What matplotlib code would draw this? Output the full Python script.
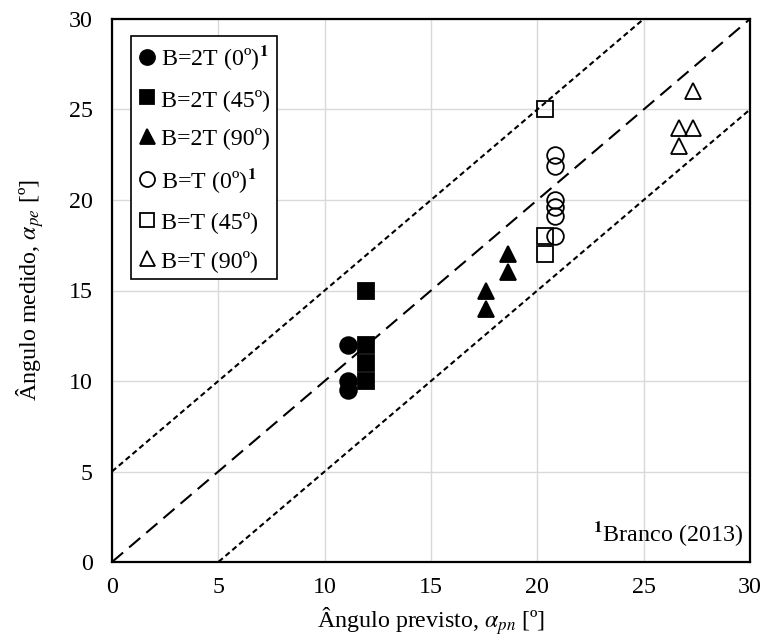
import numpy as np
import matplotlib.pyplot as plt

# --------------------------------------------------
# Data
# --------------------------------------------------
x_2T_0 = [11.1, 11.1, 11.1]
y_2T_0 = [12.0, 10.0, 9.5]

x_2T_45 = [11.95, 11.95, 11.95, 11.95]
y_2T_45 = [15.0, 12.0, 11.0, 10.0]

x_2T_90 = [17.6, 17.6, 18.6, 18.6]
y_2T_90 = [15.0, 14.0, 17.0, 16.0]

x_T_0 = [20.85, 20.85, 20.85, 20.85, 20.85, 20.85]
y_T_0 = [22.5, 21.9, 20.0, 19.6, 19.1, 18.0]

x_T_45 = [20.35, 20.35, 20.35]
y_T_45 = [25.0, 18.0, 17.0]

x_T_90 = [26.65, 26.65, 27.3, 27.3]
y_T_90 = [24.0, 23.0, 26.0, 24.0]

labels = [r'B=2T (0º)$^{\mathbf{1}}$', 'B=2T (45º)', 'B=2T (90º)',
          r'B=T (0º)$^{\mathbf{1}}$', 'B=T (45º)', 'B=T (90º)']

ref_x = [0, 30]
offsets = [0, 5, -5]

# --------------------------------------------------
# Plot settings
# --------------------------------------------------
plt.rcParams.update({
    'font.family': 'Liberation Serif',
    'mathtext.fontset': 'stix',
    'font.size': 17.3,
})

fig = plt.figure(figsize=(7.62, 6.42), dpi=100)
ax = fig.add_axes([112 / 762, 1 - 562 / 642, 638 / 762, 543 / 642])

# reference lines: 1:1 and +/- 5 degrees
ax.plot(ref_x, [v + offsets[0] for v in ref_x], color='black', lw=1.5,
        dashes=(7.0, 3.8), zorder=2)
for off in offsets[1:]:
    ax.plot(ref_x, [v + off for v in ref_x], color='black', lw=1.5,
            dashes=(2.6, 1.7), zorder=2)

series = [
    (x_2T_0, y_2T_0, 'o', 'black'),
    (x_2T_45, y_2T_45, 's', 'black'),
    (x_2T_90, y_2T_90, '^', 'black'),
    (x_T_0, y_T_0, 'o', 'none'),
    (x_T_45, y_T_45, 's', 'none'),
    (x_T_90, y_T_90, '^', 'none'),
]
for (xs, ys, mk, fc), lab in zip(series, labels):
    ax.plot(xs, ys, linestyle='none', marker=mk,
            markersize=12 if mk != 's' else 11.5,
            markerfacecolor=fc, markeredgecolor='black', markeredgewidth=1.3,
            label=lab, zorder=3)

ax.set_xlim(0, 30)
ax.set_ylim(0, 30)
ax.set_xticks(range(0, 31, 5))
ax.set_yticks(range(0, 31, 5))
ax.tick_params(length=0)
ax.tick_params(axis='x', pad=11)
ax.tick_params(axis='y', pad=14)
ax.grid(True, color='#d9d9d9', lw=1.0, zorder=0)
ax.set_axisbelow(True)
for spine in ax.spines.values():
    spine.set_linewidth(1.6)

ax.set_xlabel(r'Ângulo previsto, $\alpha_{pn}$ [º]', labelpad=5)
ax.set_ylabel(r'Ângulo medido, $\alpha_{pe}$ [º]', labelpad=16)

leg = ax.legend(loc='upper left', bbox_to_anchor=((131 - 112) / 638, (562 - 36) / 543),
                borderaxespad=0, frameon=True, fancybox=False, framealpha=1,
                edgecolor='black', markerscale=0.9, handlelength=0.7,
                handletextpad=0.25, borderpad=0.3, labelspacing=0.69)
leg.get_frame().set_linewidth(1.2)

ax.text(0.989, 0.026, r'$^{\mathbf{1}}$Branco (2013)', transform=ax.transAxes,
        ha='right', va='bottom')

fig.savefig('out.png', dpi=100)
